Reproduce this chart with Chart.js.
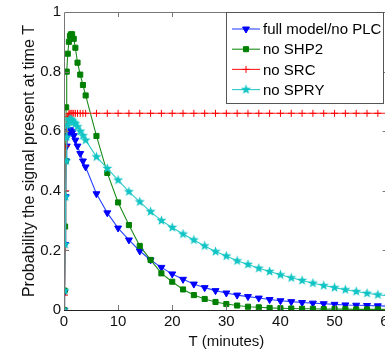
<!DOCTYPE html>
<html>
<head>
<meta charset="utf-8">
<script src="https://cdn.jsdelivr.net/npm/chart.js@4.4.0/dist/chart.umd.min.js"></script>
<style>
    html, body { margin: 0; padding: 0; background: #fff; overflow: hidden; }
    #wrap { width: 400px; height: 351px; }
</style>
</head>
<body>
<div id="wrap"><canvas id="chart" width="400" height="351"></canvas></div>
<script>
// Time points (minutes): dense around the start, then every 2 min
const times = [0, 0.1, 0.2, 0.3, 0.4, 0.5, 0.7, 0.9, 1.1, 1.3, 1.5, 1.8, 2.1, 2.5, 3, 3.5, 4,
    6, 8, 10, 12, 14, 16, 18, 20, 22, 24, 26, 28, 30, 32, 34, 36, 38, 40, 42, 44, 46, 48, 50, 52, 54, 56, 58, 60];

const fullModel = [0, 0.06, 0.22, 0.38, 0.5, 0.55, 0.585, 0.6, 0.605, 0.6, 0.595, 0.585, 0.57, 0.55, 0.525, 0.5, 0.48,
    0.39, 0.326, 0.275, 0.235, 0.198, 0.168, 0.143, 0.121, 0.103, 0.087, 0.075, 0.065, 0.057, 0.05, 0.045, 0.04, 0.035,
    0.031, 0.028, 0.025, 0.023, 0.021, 0.019, 0.017, 0.016, 0.015, 0.014, 0.013];

const noShp2 = [0, 0.065, 0.28, 0.5, 0.68, 0.8, 0.86, 0.9, 0.92, 0.925, 0.925, 0.91, 0.88, 0.83, 0.79, 0.755, 0.72,
    0.584, 0.46, 0.361, 0.285, 0.215, 0.168, 0.123, 0.095, 0.069, 0.05, 0.037, 0.027, 0.02, 0.015, 0.011, 0.009, 0.007,
    0.006, 0.005, 0.004, 0.004, 0.003, 0.003, 0.003, 0.002, 0.002, 0.002, 0.002];

const noSrc = [0, 0.05, 0.2, 0.4, 0.55, 0.62, 0.65, 0.658, 0.66, 0.66, 0.66, 0.66, 0.66, 0.66, 0.66, 0.66, 0.66,
    0.66, 0.66, 0.66, 0.66, 0.66, 0.66, 0.66, 0.66, 0.66, 0.66, 0.66, 0.66, 0.66, 0.66, 0.66, 0.66, 0.66,
    0.66, 0.66, 0.66, 0.66, 0.66, 0.66, 0.66, 0.66, 0.66, 0.66, 0.66];

const noSpry = [0, 0.065, 0.22, 0.38, 0.5, 0.58, 0.62, 0.635, 0.64, 0.64, 0.635, 0.63, 0.625, 0.615, 0.6, 0.585, 0.57,
    0.514, 0.475, 0.436, 0.397, 0.363, 0.33, 0.3, 0.277, 0.255, 0.235, 0.215, 0.196, 0.181, 0.165, 0.153, 0.14, 0.129,
    0.118, 0.108, 0.099, 0.09, 0.082, 0.075, 0.068, 0.062, 0.056, 0.051, 0.047];

const seriesLabels = ['full model/no PLC', 'no SHP2', 'no SRC', 'no SPRY'];
const xTicks = [0, 10, 20, 30, 40, 50, 60];
const yTicks = [0, 0.2, 0.4, 0.6, 0.8, 1];

// filled pentagram marker, MATLAB style
const makeStar = (color) => {
    const c = document.createElement('canvas');
    c.width = 11; c.height = 11;
    const g = c.getContext('2d');
    g.beginPath();
    for (let i = 0; i < 10; i++) {
        const r = i % 2 === 0 ? 5.3 : 2.2;
        const a = -Math.PI / 2 + i * Math.PI / 5;
        const px = 5.5 + r * Math.cos(a), py = 5.5 + r * Math.sin(a);
        i === 0 ? g.moveTo(px, py) : g.lineTo(px, py);
    }
    g.closePath();
    g.fillStyle = color;
    g.fill();
    return c;
};

const toPoints = (vals) => times.map((t, i) => ({ x: t, y: vals[i] }));

const datasets = [
    { label: seriesLabels[0], data: toPoints(fullModel), borderColor: '#2a45ff', backgroundColor: '#0000ff',
      pointStyle: 'triangle', rotation: 180, pointRadius: 4, order: 3 },
    { label: seriesLabels[1], data: toPoints(noShp2), borderColor: '#1c8c1c', backgroundColor: '#008000',
      pointStyle: 'rect', pointRadius: 3.6, order: 2 },
    { label: seriesLabels[2], data: toPoints(noSrc), borderColor: '#ff2020', backgroundColor: '#ff0000',
      pointStyle: 'cross', pointRadius: 3.5, pointBorderColor: '#ff0000', order: 1 },
    { label: seriesLabels[3], data: toPoints(noSpry), borderColor: '#2ccaca', backgroundColor: '#00c0c0',
      pointStyle: makeStar('#10c4c4'), pointRadius: 5, order: 0 }
].map(d => Object.assign({ borderWidth: 1.1, pointBorderWidth: 1, pointBorderColor: d.backgroundColor, tension: 0 }, d));

const framePlugin = {
    id: 'frame',
    afterDraw(chart) {
        const { ctx, chartArea: a, scales: { x, y } } = chart;
        ctx.save();
        ctx.lineWidth = 1;
        // box
        ctx.strokeStyle = '#777';
        ctx.beginPath();
        ctx.moveTo(a.left + 0.5, a.bottom); ctx.lineTo(a.left + 0.5, a.top + 0.5);
        ctx.lineTo(a.right - 0.5, a.top + 0.5); ctx.lineTo(a.right - 0.5, a.bottom);
        ctx.stroke();
        ctx.strokeStyle = '#222';
        ctx.beginPath();
        ctx.moveTo(a.left, a.bottom + 0.5); ctx.lineTo(a.right, a.bottom + 0.5);
        ctx.stroke();
        // inward ticks
        ctx.strokeStyle = '#777';
        ctx.beginPath();
        xTicks.slice(1, -1).forEach(v => {
            const px = Math.round(x.getPixelForValue(v)) + 0.5;
            ctx.moveTo(px, a.top); ctx.lineTo(px, a.top + 5);
            ctx.moveTo(px, a.bottom); ctx.lineTo(px, a.bottom - 5);
        });
        yTicks.slice(1, -1).forEach(v => {
            const py = Math.round(y.getPixelForValue(v)) + 0.5;
            ctx.moveTo(a.left, py); ctx.lineTo(a.left + 5, py);
            ctx.moveTo(a.right, py); ctx.lineTo(a.right - 6, py);
        });
        ctx.stroke();

        // legend box
        const bx = 226.5, by = 12.5, bw = 157, bh = 91;
        ctx.fillStyle = '#fff';
        ctx.fillRect(bx, by, bw, bh);
        ctx.strokeStyle = '#555';
        ctx.strokeRect(bx, by, bw, bh);
        ctx.font = '15px "Liberation Sans", Arial, sans-serif';
        ctx.textBaseline = 'middle';
        chart.data.datasets.forEach((ds, i) => {
            const ly = 29 + i * 20.2;
            ctx.strokeStyle = ds.borderColor;
            ctx.lineWidth = 1.1;
            ctx.beginPath();
            ctx.moveTo(232, ly); ctx.lineTo(260, ly);
            ctx.stroke();
            ctx.fillStyle = ds.backgroundColor;
            ctx.strokeStyle = ds.pointBorderColor;
            ctx.lineWidth = 1;
            Chart.helpers.drawPoint(ctx, { pointStyle: ds.pointStyle, rotation: ds.rotation || 0,
                radius: ds.pointRadius, borderWidth: 1 }, 246, ly);
            ctx.fillStyle = '#000';
            ctx.fillText(ds.label, 263, ly + 1);
        });
        ctx.restore();
    }
};

Chart.defaults.font.family = '"Liberation Sans", Arial, sans-serif';
Chart.defaults.color = '#000';

new Chart(document.getElementById('chart'), {
    type: 'line',
    data: { datasets },
    options: {
        responsive: false,
        animation: false,
        layout: { padding: { top: 12, right: 10, left: 0, bottom: 0 } },
        plugins: { legend: { display: false }, tooltip: { enabled: false } },
        scales: {
            x: {
                type: 'linear', min: 0, max: 60,
                border: { display: false },
                grid: { display: false, drawTicks: false },
                afterBuildTicks: (s) => { s.ticks = xTicks.map(v => ({ value: v })); },
                ticks: { font: { size: 15 }, padding: 3, maxRotation: 0, color: '#111', callback: (v) => String(v) },
                title: { display: true, text: 'T (minutes)', font: { size: 15 }, color: '#111', padding: { top: 0, bottom: 0 } },
                afterFit: (s) => { s.height = 41; }
            },
            y: {
                type: 'linear', min: 0, max: 1,
                border: { display: false },
                grid: { display: false, drawTicks: false },
                afterBuildTicks: (s) => { s.ticks = yTicks.map(v => ({ value: v })); },
                ticks: { font: { size: 15 }, padding: 3, color: '#111', callback: (v) => String(v) },
                title: { display: true, text: 'Probability the signal present at time T', font: { size: 16 }, color: '#111',
                    padding: { top: 20, bottom: 0 } },
                afterFit: (s) => { s.width = 64; }
            }
        }
    },
    plugins: [framePlugin]
});
</script>
</body>
</html>
